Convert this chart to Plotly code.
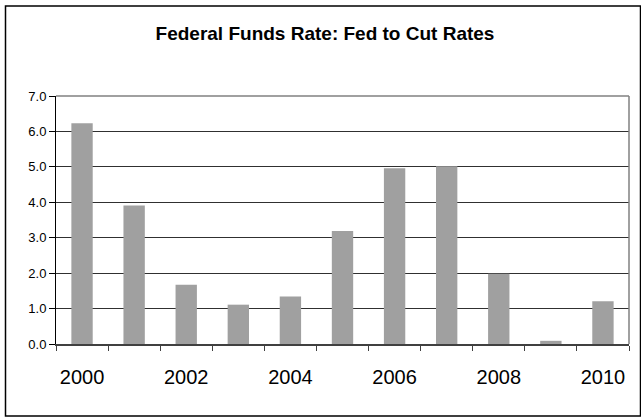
import plotly.graph_objects as go

years = [2000, 2001, 2002, 2003, 2004, 2005, 2006, 2007, 2008, 2009, 2010]
rates = [6.23, 3.91, 1.67, 1.11, 1.34, 3.19, 4.96, 5.02, 1.98, 0.09, 1.21]
x_labels = ["2000", "2002", "2004", "2006", "2008", "2010"]
x_label_vals = [2000, 2002, 2004, 2006, 2008, 2010]
y_ticks = [0, 1, 2, 3, 4, 5, 6, 7]

W, H = 641, 418
L, R, T, B = 56, 12, 96, 74
pw, ph = W - L - R, H - T - B

def px_x(p):
    return (p - L) / pw

def px_y(p):
    return (H - B - p) / ph

fig = go.Figure()
fig.add_trace(go.Bar(x=years, y=rates, marker=dict(color="#A0A0A0", line=dict(width=0)), width=0.41))

fig.update_layout(
    width=W, height=H,
    margin=dict(l=L, r=R, t=T, b=B),
    paper_bgcolor="white", plot_bgcolor="white",
    showlegend=False,
    font=dict(family="Liberation Sans, Arial, sans-serif", color="black"),
    title=dict(text="<b>Federal Funds Rate: Fed to Cut Rates</b>",
               font=dict(size=19, color="black"),
               x=325 / W, xref="container", xanchor="center",
               y=1 - 33 / H, yref="container", yanchor="middle"),
    xaxis=dict(range=[1999.5, 2010.5], tickmode="array", tickvals=x_label_vals, ticktext=x_labels,
               ticks="outside", ticklen=14, tickcolor="rgba(0,0,0,0)",
               tickfont=dict(size=20, color="black"),
               showline=True, linecolor="#404040", linewidth=1.5,
               showgrid=False, zeroline=False, fixedrange=True,
               minor=dict(tickmode="linear", tick0=1999.5, dtick=1, ticks="outside", ticklen=5,
                          tickcolor="#404040", tickwidth=1, showgrid=False)),
    yaxis=dict(range=[0, 7], tickmode="array", tickvals=y_ticks, ticktext=[f"{v:.1f}" for v in y_ticks],
               ticks="outside", ticklen=6, tickcolor="black",
               tickfont=dict(size=13, color="black"),
               showline=True, linecolor="black", linewidth=1,
               showgrid=True, gridcolor="#303030", gridwidth=1, zeroline=False, fixedrange=True),
    bargap=0.59,
)

# plot area border (top and right, gray)
fig.add_shape(type="line", xref="paper", yref="paper", x0=0, x1=1, y0=1, y1=1,
              line=dict(color="#808080", width=1.5), layer="above")
fig.add_shape(type="line", xref="paper", yref="paper", x0=1, x1=1, y0=0, y1=1,
              line=dict(color="#808080", width=1.5), layer="above")
# outer chart border
fig.add_shape(type="rect", xref="paper", yref="paper",
              x0=px_x(5.5), x1=px_x(640.5), y0=px_y(416), y1=px_y(6),
              line=dict(color="black", width=1.5), fillcolor="rgba(0,0,0,0)", layer="below")

fig.write_html("out.html")
